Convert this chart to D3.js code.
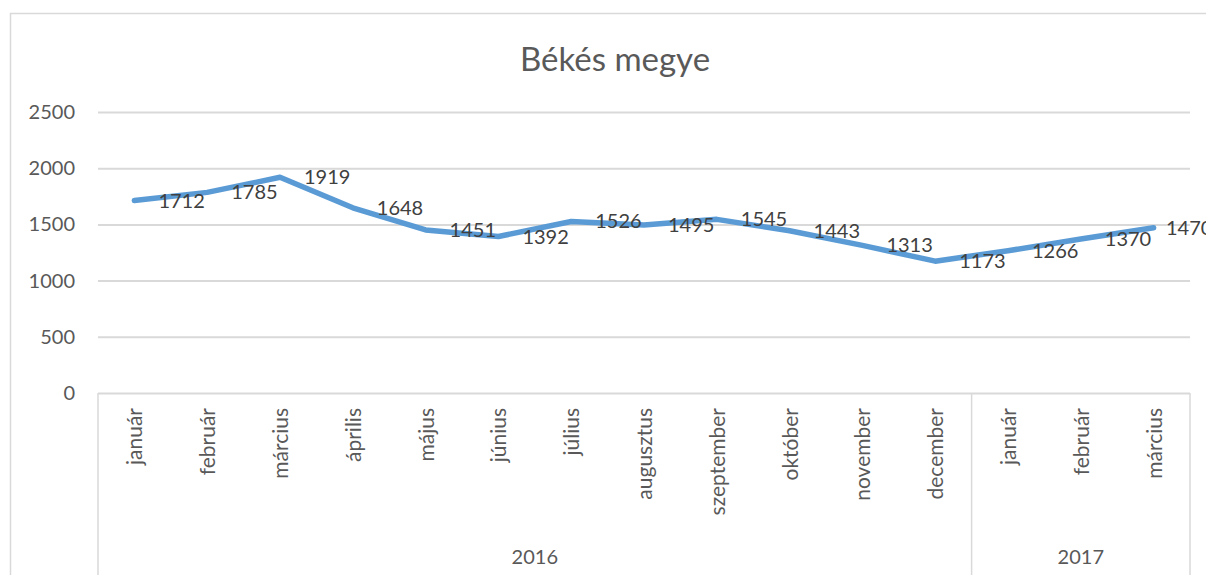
<!DOCTYPE html>
<html><head><meta charset="utf-8">
<script src="https://cdn.jsdelivr.net/npm/d3@7"></script>
<style>body{margin:0;background:#fff;}svg{display:block;font-family:Lato,"Open Sans",sans-serif;}</style>
</head><body><svg id="c" width="1206" height="575"></svg>
<script>
const months = ["január","február","március","április","május","június","július","augusztus","szeptember","október","november","december","január","február","március"];
const years = ["2016","2016","2016","2016","2016","2016","2016","2016","2016","2016","2016","2016","2017","2017","2017"];
const values = [1712,1785,1919,1648,1451,1392,1526,1495,1545,1443,1313,1173,1266,1370,1470];
const yTicks = [0,500,1000,1500,2000,2500];
const title = "Békés megye";

const svg = d3.select("#c");
const L = 98, R = 1190, T = 112, B = 393;
const idx = d3.range(values.length);
const x = d3.scaleBand().domain(idx).range([L, R]);
const y = d3.scaleLinear().domain([0, 2500]).range([B, T]);
const grey = "#d9d9d9", txt = "#595959";

// outer chart border
svg.append("rect").attr("x",10.5).attr("y",13.5).attr("width",1300).attr("height",700)
  .attr("fill","none").attr("stroke",grey).attr("stroke-width",1.5);

svg.append("text").attr("x",615).attr("y",71).attr("text-anchor","middle")
  .attr("fill",txt).style("font-size","33px").text(title);

// gridlines + y labels
const ya = d3.axisLeft(y).tickValues(yTicks).tickFormat(d3.format("d")).tickSize(-(R-L)).tickPadding(23);
const g = svg.append("g").attr("transform",`translate(${L},0)`).call(ya);
g.select(".domain").remove();
g.selectAll(".tick line").attr("stroke",grey).attr("stroke-width",2);
g.selectAll(".tick text").attr("fill",txt).style("font-size","20px").style("font-family","Lato,sans-serif");

// category axis box lines
const groups = d3.groups(idx, i => years[i]);
const boundaries = [L];
groups.forEach(([yr, arr]) => boundaries.push(x(arr[arr.length-1]) + x.bandwidth()));
svg.selectAll("line.sep").data(boundaries).enter().append("line")
  .attr("x1",d=>d).attr("x2",d=>d).attr("y1",B).attr("y2",575)
  .attr("stroke",grey).attr("stroke-width",1.5);

// month labels
svg.selectAll("text.m").data(idx).enter().append("text")
  .attr("transform",i=>`translate(${x(i)+x.bandwidth()/2+8},${B+15}) rotate(-90)`)
  .attr("text-anchor","end").attr("fill",txt).style("font-size","21px")
  .text(i=>months[i]);

// year labels
svg.selectAll("text.yr").data(groups).enter().append("text")
  .attr("x",([yr,arr])=>(x(arr[0])+x(arr[arr.length-1])+x.bandwidth())/2)
  .attr("y",564).attr("text-anchor","middle").attr("fill",txt).style("font-size","20px")
  .text(d=>d[0]);

// line
const line = d3.line().x(i=>x(i)+x.bandwidth()/2).y(i=>y(values[i]));
svg.append("path").datum(idx).attr("d",line).attr("fill","none")
  .attr("stroke","#5B9BD5").attr("stroke-width",5.5).attr("stroke-linejoin","round").attr("stroke-linecap","round");

// data labels (kept inside the frame like the original)
svg.selectAll("text.v").data(idx).enter().append("text")
  .attr("x",i=>Math.min(x(i)+x.bandwidth()/2+24, 1166)).attr("y",i=>y(values[i])+7)
  .attr("fill","#404040").style("font-size","20px").text(i=>values[i]);
</script></body></html>
